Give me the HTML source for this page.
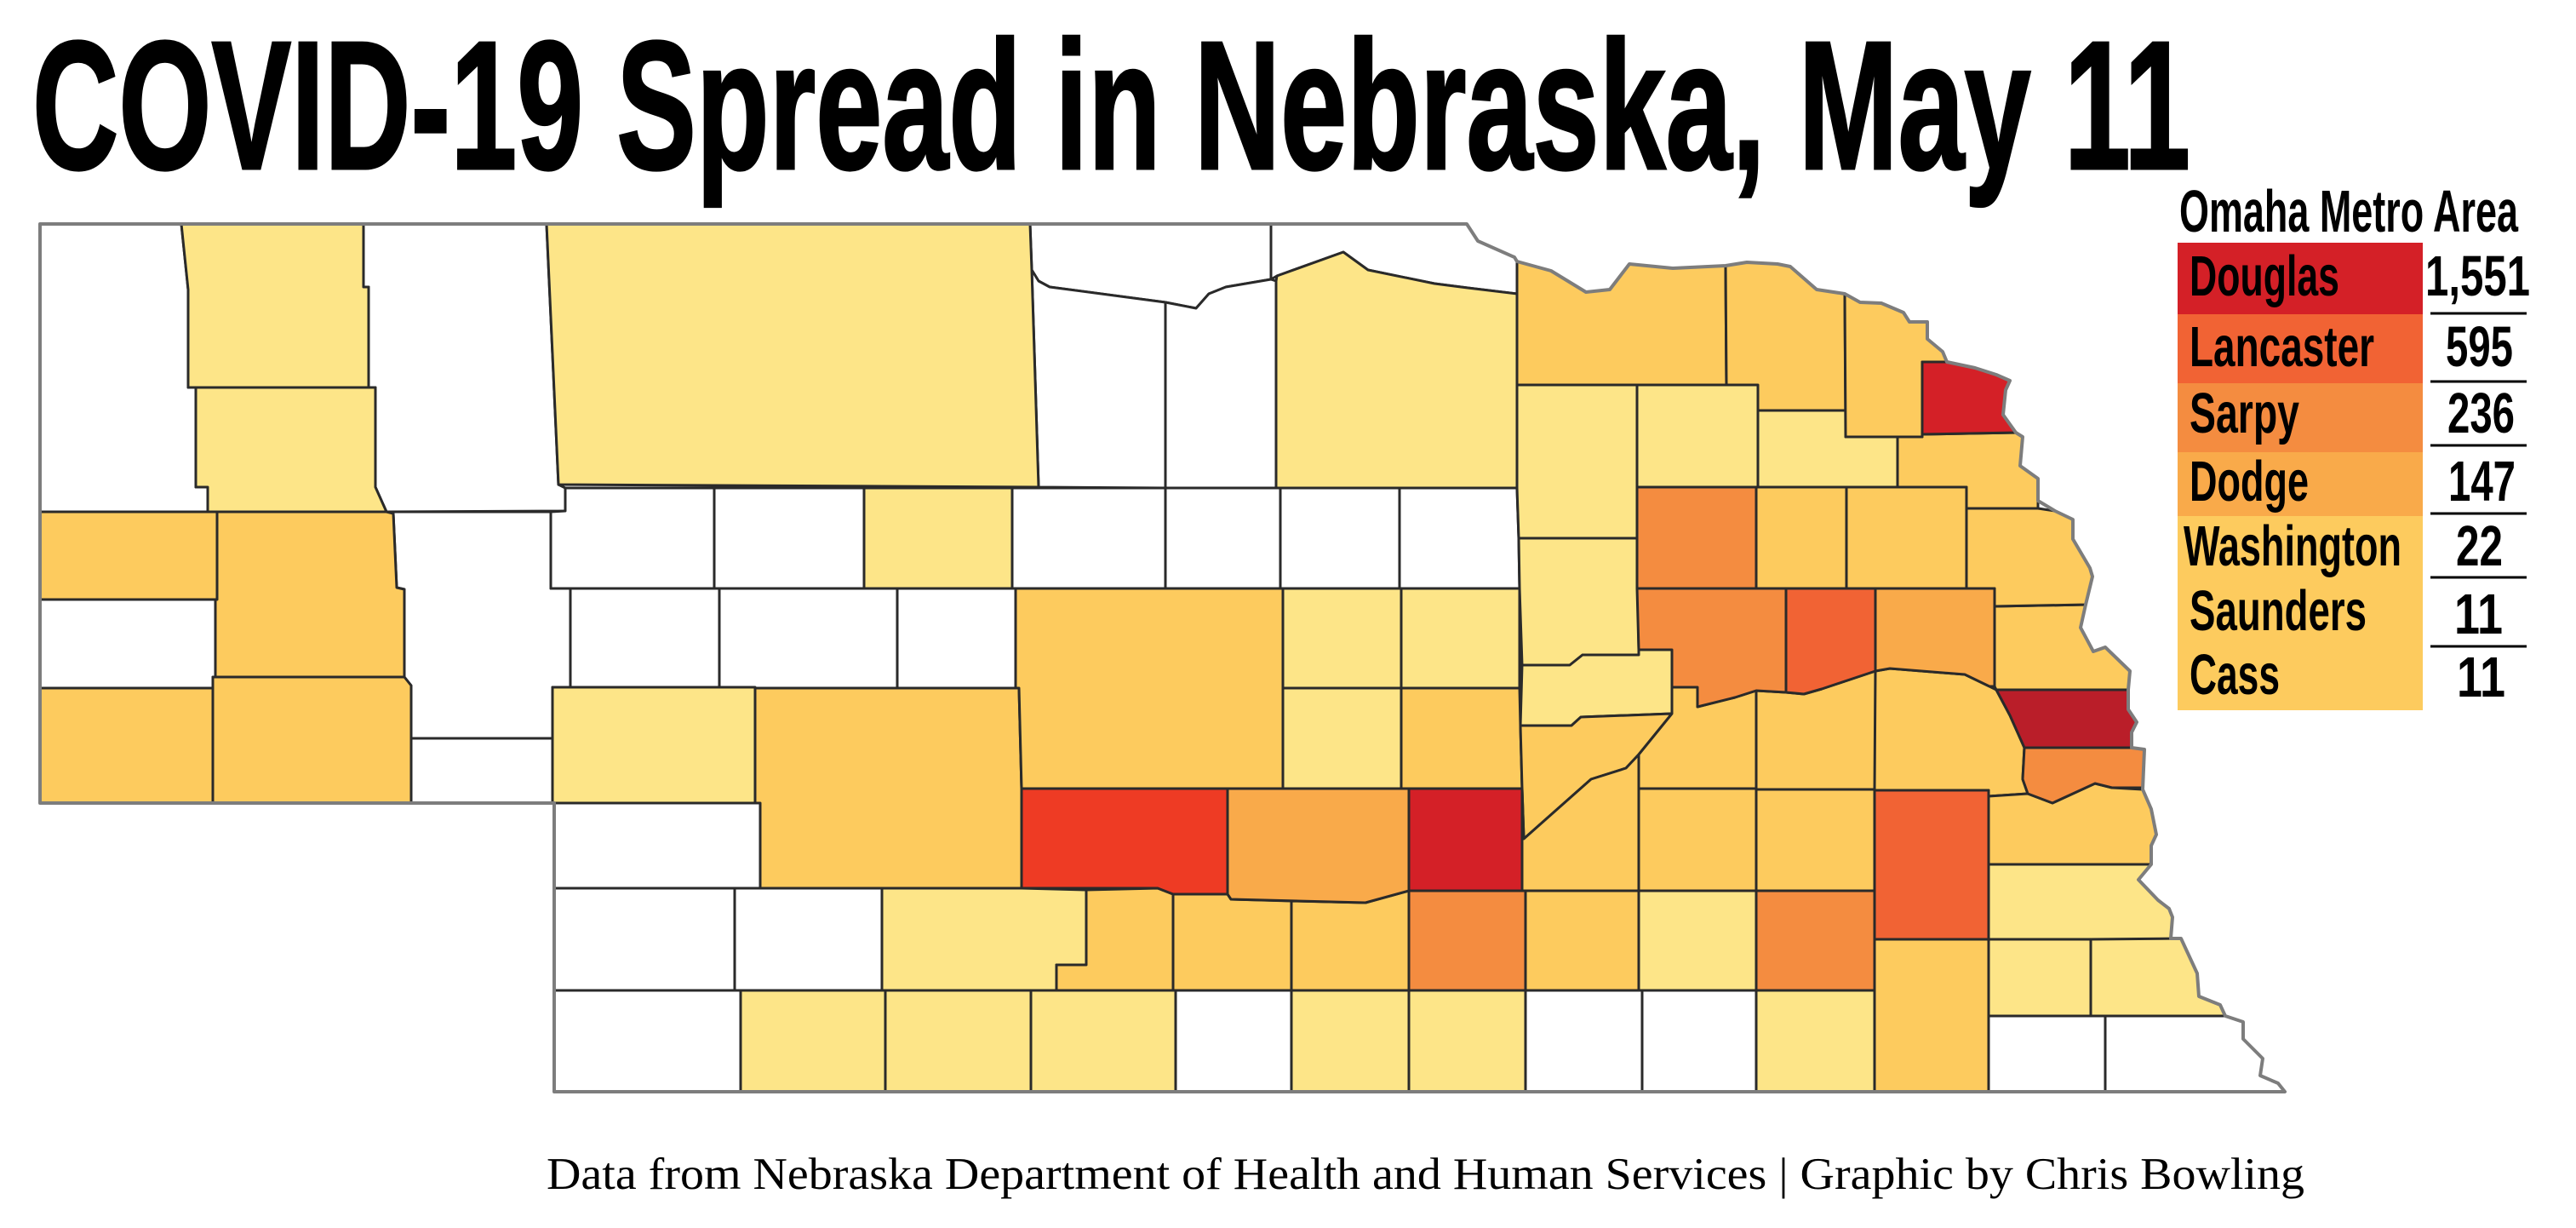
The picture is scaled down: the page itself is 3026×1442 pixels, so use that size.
<!DOCTYPE html>
<html><head><meta charset="utf-8"><style>
html,body{margin:0;padding:0;background:#fff;}
svg{display:block;}
.c{stroke:#2a2a2a;stroke-width:3;stroke-linejoin:round;}
.W{fill:#ffffff;} .LY{fill:#fde588;} .OY{fill:#fdcb5e;} .O1{fill:#f9aa4a;} .O2{fill:#f48c40;} .O3{fill:#f16334;} .R1{fill:#ee3b24;} .R2{fill:#d42027;} .R3{fill:#ba1e29;}
.t{font-family:"Liberation Sans",Arial,sans-serif;font-weight:bold;fill:#000;}
</style></head><body>
<svg width="3026" height="1442" viewBox="0 0 3026 1442" xmlns="http://www.w3.org/2000/svg">
<rect width="3026" height="1442" fill="#fff"/>
<text class="t" x="38" y="198" font-size="215" textLength="2535" lengthAdjust="spacingAndGlyphs" stroke="#000" stroke-width="3">COVID-19 Spread in Nebraska, May 11</text>

<g class="c">
<!-- white -->
<polygon class="W" points="47,263 213,263 221,340 221,455 230,455 230,572 244,572 244,601 47,601"/>
<polygon class="W" points="427,263 642,263 656,569 664,573 664,600 454,601 441,572 441,455 433,455 433,337 427,337"/>
<polygon class="W" points="47,704 253,704 253,795 250,795 250,808 47,808"/>
<polygon class="W" points="454,601 647,601 647,691 670,691 670,807 649,807 649,867 483,867 483,805 475,795 475,692 466,690 462,603"/>
<polygon class="W" points="483,867 649,867 649,943 483,943"/>
<polygon class="W" points="647,601 664,600 664,573 839,573 839,691 647,691"/>
<polygon class="W" points="670,691 845,691 845,807 670,807"/>
<polygon class="W" points="839,573 1015,573 1015,691 839,691"/>
<polygon class="W" points="845,691 1054,691 1054,808 845,808"/>
<polygon class="W" points="1054,691 1193,691 1193,808 1054,808"/>
<polygon class="W" points="1189,573 1369,573 1369,691 1189,691"/>
<polygon class="W" points="1369,573 1504,573 1504,691 1369,691"/>
<polygon class="W" points="1504,573 1644,573 1644,691 1504,691"/>
<polygon class="W" points="1644,573 1782,573 1784,632 1785,691 1644,691"/>
<polygon class="W" points="1210,263 1493,263 1493,328 1440,337 1420,345 1405,362 1369,355 1233,337 1220,330 1212,317"/>
<polygon class="W" points="1493,263 1723,263 1736,283 1779,302 1782,307 1782,345 1724,338 1685,333 1607,317 1578,296 1500,324 1493,328"/>
<polygon class="W" points="1212,317 1220,330 1233,337 1369,355 1369,573 1220,572"/>
<polygon class="W" points="1369,355 1405,362 1420,345 1440,337 1493,328 1499,330 1499,573 1369,573"/>
<polygon class="W" points="651,943 893,943 893,1043 651,1043"/>
<polygon class="W" points="651,1043 863,1043 863,1163 651,1163"/>
<polygon class="W" points="863,1043 1036,1043 1036,1163 863,1163"/>
<polygon class="W" points="651,1163 870,1163 870,1282 651,1282"/>
<polygon class="W" points="1381,1163 1517,1163 1517,1282 1381,1282"/>
<polygon class="W" points="1792,1163 1929,1163 1929,1282 1792,1282"/>
<polygon class="W" points="1929,1163 2063,1163 2063,1282 1929,1282"/>
<polygon class="W" points="2336,1193 2473,1193 2473,1282 2336,1282"/>
<polygon class="W" points="2473,1193 2614,1193 2635,1200 2635,1220 2658,1243 2655,1263 2676,1272 2684,1282 2473,1282"/>
<!-- light yellow -->
<polygon class="LY" points="213,263 427,263 427,337 433,337 433,455 221,455 221,340"/>
<polygon class="LY" points="230,455 441,455 441,572 454,601 244,601 244,572 230,572"/>
<polygon class="LY" points="642,263 1210,263 1212,317 1220,572 656,569"/>
<polygon class="LY" points="1015,573 1189,573 1189,691 1015,691"/>
<polygon class="LY" points="649,807 887,807 887,943 649,943"/>
<polygon class="LY" points="1499,330 1500,324 1578,296 1607,317 1685,333 1724,338 1782,345 1782,573 1499,573"/>
<polygon class="LY" points="1782,452 1923,452 1923,632 1784,632 1782,573"/>
<polygon class="LY" points="1923,452 2065,452 2065,572 1923,572"/>
<polygon class="LY" points="2065,482 2168,482 2168,513 2229,513 2229,572 2065,572"/>
<polygon class="LY" points="1784,632 1923,632 1925,763 1925,769 1859,769 1844,781 1788,781 1785,691"/>
<polygon class="LY" points="1788,781 1844,781 1859,769 1925,769 1925,763 1964,763 1964,838 1857,842 1846,852 1786,852"/>
<polygon class="LY" points="1507,691 1646,691 1646,808 1507,808"/>
<polygon class="LY" points="1646,691 1785,691 1785,808 1646,808"/>
<polygon class="LY" points="1507,808 1646,808 1646,926 1507,926"/>
<polygon class="LY" points="1036,1043 1200,1043 1276,1045 1276,1133 1241,1133 1241,1163 1036,1163"/>
<polygon class="LY" points="870,1163 1040,1163 1040,1282 870,1282"/>
<polygon class="LY" points="1040,1163 1211,1163 1211,1282 1040,1282"/>
<polygon class="LY" points="1211,1163 1381,1163 1381,1282 1211,1282"/>
<polygon class="LY" points="1517,1163 1655,1163 1655,1282 1517,1282"/>
<polygon class="LY" points="1655,1163 1792,1163 1792,1282 1655,1282"/>
<polygon class="LY" points="1925,1046 2063,1046 2063,1163 1925,1163"/>
<polygon class="LY" points="2063,1163 2202,1163 2202,1282 2063,1282"/>
<polygon class="LY" points="2336,1015 2527,1015 2512,1033 2535,1057 2548,1067 2552,1077 2550,1103 2336,1103"/>
<polygon class="LY" points="2336,1103 2456,1103 2456,1193 2336,1193"/>
<polygon class="LY" points="2456,1103 2562,1102 2581,1143 2583,1170 2608,1180 2614,1193 2456,1193"/>
<!-- orange-yellow -->
<polygon class="OY" points="47,601 255,601 255,704 47,704"/>
<polygon class="OY" points="47,808 250,808 250,943 47,943"/>
<polygon class="OY" points="255,601 454,601 462,603 466,690 475,692 475,795 253,795 253,704 255,704"/>
<polygon class="OY" points="250,795 475,795 483,805 483,943 250,943"/>
<polygon class="OY" points="887,808 1197,808 1200,926 1200,1043 893,1043 893,943 887,943"/>
<polygon class="OY" points="1193,691 1507,691 1507,926 1200,926 1197,808 1193,808"/>
<polygon class="OY" points="1646,808 1785,808 1786,852 1788,926 1646,926"/>
<polygon class="OY" points="1786,852 1846,852 1857,842 1964,838 1925,886 1910,902 1869,915 1790,985 1788,926"/>
<polygon class="OY" points="1788,926 1790,985 1869,915 1910,902 1925,886 1925,1046 1788,1046"/>
<polygon class="OY" points="1925,886 1964,838 1964,807 1994,807 1994,830 2038,819 2063,811 2063,926 1925,926"/>
<polygon class="OY" points="2063,811 2098,813 2119,815 2140,809 2203,788 2203,927 2063,927"/>
<polygon class="OY" points="2343,712 2450,710 2444,737 2459,765 2473,760 2502,788 2500,810 2345,810 2343,806"/>
<polygon class="OY" points="2310,597 2394,597 2414,600 2435,610 2435,633 2455,667 2458,677 2450,710 2343,712 2343,691 2310,691"/>
<polygon class="OY" points="2229,513 2258,513 2258,510 2368,508 2376,513 2373,547 2394,562 2394,597 2310,597 2310,572 2229,572"/>
<polygon class="OY" points="2169,572 2310,572 2310,691 2169,691"/>
<polygon class="OY" points="2063,572 2169,572 2169,691 2063,691"/>
<polygon class="OY" points="1782,307 1822,318 1863,343 1891,340 1914,310 1965,315 2027,312 2028,452 1782,452"/>
<polygon class="OY" points="2027,312 2052,308 2088,310 2103,313 2134,340 2167,345 2168,482 2065,482 2065,452 2028,452"/>
<polygon class="OY" points="2167,345 2185,355 2210,356 2236,367 2243,378 2264,378 2264,398 2282,413 2287,425 2258,425 2258,513 2168,513"/>
<polygon class="OY" points="2203,788 2220,785 2308,792 2337,806 2345,810 2361,840 2378,878 2376,915 2382,932 2336,935 2336,928 2202,928"/>
<polygon class="OY" points="2336,935 2382,932 2411,943 2461,920 2481,925 2517,927 2527,950 2533,980 2527,993 2527,1015 2336,1015"/>
<polygon class="OY" points="2063,927 2202,927 2202,1046 2063,1046"/>
<polygon class="OY" points="1925,926 2063,926 2063,1046 1925,1046"/>
<polygon class="OY" points="1276,1045 1360,1043 1378,1050 1378,1163 1241,1163 1241,1133 1276,1133"/>
<polygon class="OY" points="1378,1050 1442,1050 1446,1056 1517,1058 1517,1163 1378,1163"/>
<polygon class="OY" points="1517,1058 1604,1060 1655,1046 1655,1163 1517,1163"/>
<polygon class="OY" points="1792,1046 1925,1046 1925,1163 1792,1163"/>
<polygon class="OY" points="2202,1103 2336,1103 2336,1282 2202,1282"/>
<!-- oranges / reds -->
<polygon class="O2" points="1923,572 2063,572 2063,691 1923,691"/>
<polygon class="O2" points="1923,691 2098,691 2098,813 2063,811 2038,819 1994,830 1994,807 1964,807 1964,763 1925,763"/>
<polygon class="O3" points="2098,691 2203,691 2203,788 2140,809 2119,815 2098,813"/>
<polygon class="O1" points="2203,691 2343,691 2343,806 2337,806 2308,792 2220,785 2203,788"/>
<polygon class="R2" points="2258,425 2287,425 2320,432 2345,440 2361,447 2356,458 2353,487 2368,508 2258,510"/>
<polygon class="R3" points="2345,810 2500,810 2500,833 2510,848 2504,860 2504,878 2378,878 2361,840"/>
<polygon class="O2" points="2378,878 2504,878 2519,880 2517,925 2481,925 2461,920 2411,943 2382,932 2376,915"/>
<polygon class="O3" points="2202,928 2336,928 2336,1103 2202,1103"/>
<polygon class="R2" points="1655,926 1788,926 1788,1046 1655,1046"/>
<polygon class="O1" points="1442,926 1655,926 1655,1046 1604,1060 1446,1056 1442,1050"/>
<polygon class="R1" points="1200,926 1442,926 1442,1050 1378,1050 1360,1043 1200,1043"/>
<polygon class="O2" points="1655,1046 1792,1046 1792,1163 1655,1163"/>
<polygon class="O2" points="2063,1046 2202,1046 2202,1163 2063,1163"/>
</g>
<path d="M47,263 L1723,263 1736,283 1779,302 1782,307 1822,318 1863,343 1891,340 1914,310 1965,315 2027,312 2052,308 2088,310 2103,313 2134,340 2167,345 2185,355 2210,356 2236,367 2243,378 2264,378 2264,398 2282,413 2287,425 2320,432 2345,440 2361,447 2356,458 2353,487 2368,508 2376,513 2373,547 2394,562 2394,588 2414,600 2435,610 2435,633 2455,667 2458,677 2450,710 2444,737 2459,765 2473,760 2502,788 2500,810 2500,833 2510,848 2504,860 2504,878 2519,880 2517,927 2527,950 2533,980 2527,993 2527,1015 2512,1033 2535,1057 2548,1067 2552,1077 2550,1102 2562,1102 2581,1143 2583,1170 2608,1180 2614,1193 2635,1200 2635,1220 2658,1243 2655,1263 2676,1272 2684,1282 L651,1282 651,943 47,943 Z" fill="none" stroke="#7d7d7d" stroke-width="4" stroke-linejoin="round"/>

<!-- legend -->
<text class="t" x="2560" y="272" font-size="70" textLength="398" lengthAdjust="spacingAndGlyphs">Omaha Metro Area</text>
<rect x="2558" y="285" width="288" height="84" fill="#d42027"/>
<rect x="2558" y="369" width="288" height="81" fill="#f16334"/>
<rect x="2558" y="450" width="288" height="81" fill="#f48c40"/>
<rect x="2558" y="531" width="288" height="76" fill="#f9aa4a"/>
<rect x="2558" y="606" width="288" height="228" fill="#fdcb5e"/>
<g class="t" font-size="67">
<text x="2572" y="347" textLength="176" lengthAdjust="spacingAndGlyphs">Douglas</text>
<text x="2572" y="430" textLength="217" lengthAdjust="spacingAndGlyphs">Lancaster</text>
<text x="2572" y="508" textLength="129" lengthAdjust="spacingAndGlyphs">Sarpy</text>
<text x="2572" y="588" textLength="140" lengthAdjust="spacingAndGlyphs">Dodge</text>
<text x="2565" y="664" textLength="256" lengthAdjust="spacingAndGlyphs">Washington</text>
<text x="2572" y="740" textLength="208" lengthAdjust="spacingAndGlyphs">Saunders</text>
<text x="2572" y="815" textLength="106" lengthAdjust="spacingAndGlyphs">Cass</text>
<text x="2849" y="347" textLength="123" lengthAdjust="spacingAndGlyphs">1,551</text>
<text x="2873" y="430" textLength="79" lengthAdjust="spacingAndGlyphs">595</text>
<text x="2875" y="508" textLength="79" lengthAdjust="spacingAndGlyphs">236</text>
<text x="2876" y="588" textLength="79" lengthAdjust="spacingAndGlyphs">147</text>
<text x="2885" y="664" textLength="55" lengthAdjust="spacingAndGlyphs">22</text>
<text x="2883" y="744" textLength="57" lengthAdjust="spacingAndGlyphs">11</text>
<text x="2886" y="818" textLength="57" lengthAdjust="spacingAndGlyphs">11</text>
</g>
<g stroke="#000" stroke-width="3">
<line x1="2855" y1="368" x2="2968" y2="368"/>
<line x1="2855" y1="448" x2="2968" y2="448"/>
<line x1="2855" y1="523" x2="2968" y2="523"/>
<line x1="2855" y1="603" x2="2968" y2="603"/>
<line x1="2855" y1="678" x2="2968" y2="678"/>
<line x1="2855" y1="759" x2="2968" y2="759"/>
</g>

<text x="642" y="1396" font-family="'Liberation Serif',serif" font-size="53" fill="#000" textLength="2065" lengthAdjust="spacingAndGlyphs">Data from Nebraska Department of Health and Human Services | Graphic by Chris Bowling</text>
</svg>
</body></html>
